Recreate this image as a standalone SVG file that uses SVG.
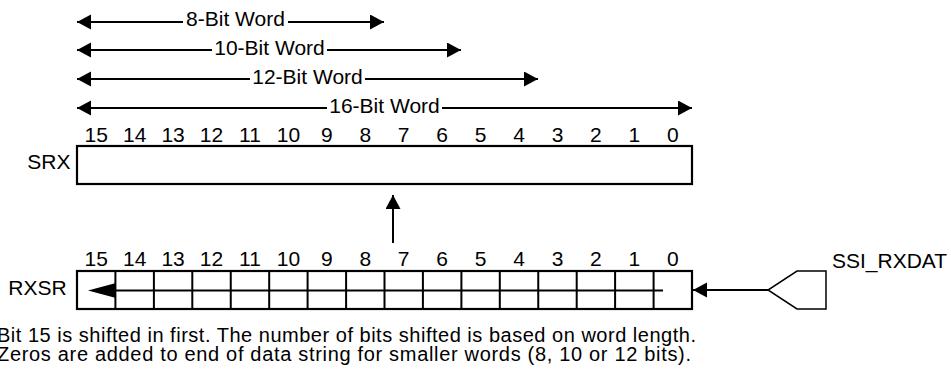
<svg xmlns="http://www.w3.org/2000/svg" width="951" height="374" viewBox="0 0 951 374">
<style>
text{font-family:"Liberation Sans",Arial,sans-serif;font-size:21px;fill:#000}
.c{text-anchor:middle}
.ln{stroke:#000;stroke-width:2;fill:none}
.box{stroke:#000;stroke-width:2.2;fill:#fff}
.thin{stroke:#000;stroke-width:1.5;fill:none}
.ah{fill:#000;stroke:none}
.note{font-size:20px}
</style>
<defs>
<marker id="ar" markerUnits="userSpaceOnUse" markerWidth="15" markerHeight="16" refX="14" refY="7.5" orient="auto-start-reverse">
<path d="M0,0 L14,7.5 L0,15 Z" class="ah"/>
</marker>
</defs>
<g id="connectors">
<g id="w8">
<line class="ln" x1="77" y1="22" x2="183" y2="22" marker-start="url(#ar)"/>
<line class="ln" x1="288" y1="22" x2="384" y2="22" marker-end="url(#ar)"/>
<text class="c" x="235.5" y="26">8-Bit Word</text>
</g>
<g id="w10">
<line class="ln" x1="77" y1="50" x2="212" y2="50" marker-start="url(#ar)"/>
<line class="ln" x1="327" y1="50" x2="461" y2="50" marker-end="url(#ar)"/>
<text class="c" x="269.5" y="54.5">10-Bit Word</text>
</g>
<g id="w12">
<line class="ln" x1="77" y1="79" x2="250" y2="79" marker-start="url(#ar)"/>
<line class="ln" x1="365" y1="79" x2="538" y2="79" marker-end="url(#ar)"/>
<text class="c" x="307.5" y="83.5">12-Bit Word</text>
</g>
<g id="w16">
<line class="ln" x1="77" y1="108" x2="327" y2="108" marker-start="url(#ar)"/>
<line class="ln" x1="442" y1="108" x2="692" y2="108" marker-end="url(#ar)"/>
<text class="c" x="384.5" y="112.5">16-Bit Word</text>
</g>
<line id="up" class="ln" x1="393" y1="243" x2="393" y2="195" marker-end="url(#ar)"/>
<line id="in" class="ln" x1="768" y1="290" x2="693" y2="290" marker-end="url(#ar)"/>
</g>
<g id="srx">
<text x="70.5" y="169" style="text-anchor:end">SRX</text>
<rect class="box" x="77" y="146" width="615" height="38"/>
<g class="c">
<text x="96.2" y="141.5">15</text><text x="134.7" y="141.5">14</text><text x="173.1" y="141.5">13</text><text x="211.5" y="141.5">12</text>
<text x="250" y="141.5">11</text><text x="288.4" y="141.5">10</text><text x="326.8" y="141.5">9</text><text x="365.3" y="141.5">8</text>
<text x="403.7" y="141.5">7</text><text x="442.2" y="141.5">6</text><text x="480.6" y="141.5">5</text><text x="519" y="141.5">4</text>
<text x="557.5" y="141.5">3</text><text x="595.9" y="141.5">2</text><text x="634.3" y="141.5">1</text><text x="672.8" y="141.5">0</text>
</g>
</g>
<g id="rxsr">
<text x="66.7" y="295" style="text-anchor:end">RXSR</text>
<rect class="box" x="77" y="271" width="615" height="38"/>
<path class="ln" d="M115.4,271V309M153.9,271V309M192.3,271V309M230.75,271V309M269.2,271V309M307.6,271V309M346.1,271V309M384.5,271V309M422.9,271V309M461.4,271V309M499.8,271V309M538.25,271V309M576.7,271V309M615.1,271V309M653.6,271V309"/>
<line class="ln" x1="116" y1="290.5" x2="663" y2="290.5"/>
<polygon class="ah" points="88,290.5 116,283 116,298"/>
<g class="c">
<text x="96.2" y="266">15</text><text x="134.7" y="266">14</text><text x="173.1" y="266">13</text><text x="211.5" y="266">12</text>
<text x="250" y="266">11</text><text x="288.4" y="266">10</text><text x="326.8" y="266">9</text><text x="365.3" y="266">8</text>
<text x="403.7" y="266">7</text><text x="442.2" y="266">6</text><text x="480.6" y="266">5</text><text x="519" y="266">4</text>
<text x="557.5" y="266">3</text><text x="595.9" y="266">2</text><text x="634.3" y="266">1</text><text x="672.8" y="266">0</text>
</g>
</g>
<g id="ssi_rxdat">
<path class="thin" d="M797,271 L826,271 L826,309 L797,309 L768,290 Z"/>
<text x="832" y="268">SSI_RXDAT</text>
</g>
<g id="note">
<text class="note" x="-3" y="341.7" textLength="699" lengthAdjust="spacing">Bit 15 is shifted in first. The number of bits shifted is based on word length.</text>
<text class="note" x="-3" y="361" textLength="694" lengthAdjust="spacing">Zeros are added to end of data string for smaller words (8, 10 or 12 bits).</text>
</g>
</svg>
